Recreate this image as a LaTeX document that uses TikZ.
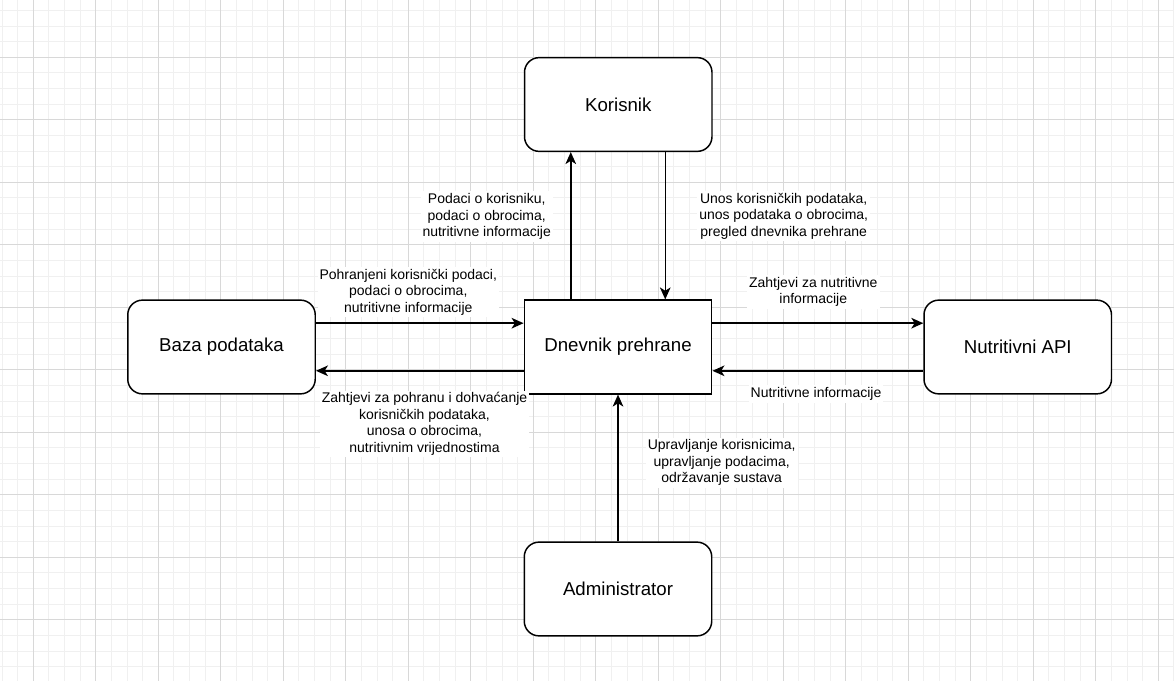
\documentclass[tikz,border=0pt]{standalone}
\usepackage{fontspec}
\setmainfont{Liberation Sans}
\usetikzlibrary{arrows.meta,calc}

\definecolor{gridminor}{RGB}{240,240,240}
\definecolor{gridmajor}{RGB}{216,216,216}

\tikzset{
  gridfine/.style={draw=gridminor, line width=0.75pt},
  gridbold/.style={draw=gridmajor, line width=0.75pt},
  entity/.style={draw=black, line width=1.1pt, fill=white, rounded corners=11pt,
    minimum width=140.6pt, minimum height=70.3pt, inner sep=0pt,
    font=\fontsize{14pt}{16pt}\selectfont},
  process/.style={entity, rounded corners=0pt},
  flow/.style={draw=black, line width=1.1pt,
    -{Stealth[length=9pt, width=8pt, inset=2.5pt]}},
  flowlabel/.style={fill=white, align=center, inner sep=1.5pt,
    font=\fontsize{10.5pt}{12.4pt}\selectfont},
}

\begin{document}
\begin{tikzpicture}[x=0.75pt, y=-0.75pt]
  % canvas
  \useasboundingbox (0,0) rectangle (1174,681);
  \fill[white] (0,0) rectangle (1174,681);

  % background grid
  \foreach \i in {0,...,75}
    \draw[gridfine] ({2.08+15.625*\i},0) -- ++(0,681);
  \foreach \j in {0,...,43}
    \draw[gridfine] (0,{10.4+15.625*\j}) -- ++(1174,0);
  \foreach \i in {0,...,18}
    \draw[gridbold] ({33.33+62.5*\i},0) -- ++(0,681);
  \foreach \j in {0,...,9}
    \draw[gridbold] (0,{57.3+62.5*\j}) -- ++(1174,0);

  % entities and central process
  \node[entity]  (kor) at (618.25,104.5) {Korisnik};
  \node[process] (dn)  at (618,347)      {Dnevnik prehrane};
  \node[entity]  (baza) at (221.5,347)   {Baza podataka};
  \node[entity]  (api) at (1017.75,347)  {Nutritivni API};
  \node[entity]  (adm) at (618,589)      {Administrator};

  % attachment points on the process box
  \coordinate (dnN1) at ($(dn.north west)!0.25!(dn.north east)$);
  \coordinate (dnN2) at ($(dn.north west)!0.75!(dn.north east)$);
  \coordinate (dnW1) at ($(dn.north west)!0.25!(dn.south west)$);
  \coordinate (dnW2) at ($(dn.north west)!0.75!(dn.south west)$);
  \coordinate (dnE1) at ($(dn.north east)!0.25!(dn.south east)$);
  \coordinate (dnE2) at ($(dn.north east)!0.75!(dn.south east)$);

  % data flows
  \draw[flow] (dnN1) -- (dnN1 |- kor.south);
  \draw[flow] (dnN2 |- kor.south) -- (dnN2);
  \draw[flow] (dnW1 -| baza.east) -- (dnW1);
  \draw[flow] (dnW2) -- (dnW2 -| baza.east);
  \draw[flow] (dnE1) -- (dnE1 -| api.west);
  \draw[flow] (dnE2 -| api.west) -- (dnE2);
  \draw[flow] (adm.north) -- (dn.south);

  % flow labels
  \node[flowlabel] (l1) at (486.7,216.5)
    {Podaci o korisniku,\\podaci o obrocima,\\nutritivne informacije};
  \node[flowlabel] (l2) at (783.7,216)
    {Unos korisničkih podataka,\\unos podataka o obrocima,\\pregled dnevnika prehrane};
  \node[flowlabel] (l3) at (408.3,292)
    {Pohranjeni korisnički podaci,\\podaci o obrocima,\\nutritivne informacije};
  \node[flowlabel] (l4) at (813.3,292)
    {Zahtjevi za nutritivne\\informacije};
  \node[flowlabel] (l5) at (816,394)
    {Nutritivne informacije};
  \node[flowlabel] (l6) at (424.5,424)
    {Zahtjevi za pohranu i dohvaćanje\\korisničkih podataka,\\unosa o obrocima,\\nutritivnim vrijednostima};
  \node[flowlabel] (l7) at (721.7,462.7)
    {Upravljanje korisnicima,\\upravljanje podacima,\\održavanje sustava};
\end{tikzpicture}
\end{document}
